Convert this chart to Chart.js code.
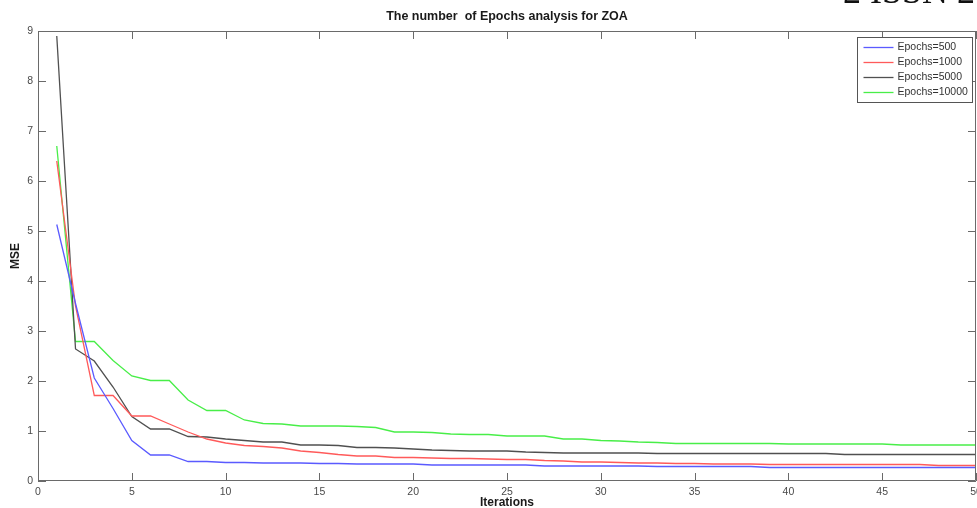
<!DOCTYPE html>
<html>
<head>
<meta charset="utf-8">
<title>Epochs analysis for ZOA</title>
<script src="https://cdn.jsdelivr.net/npm/chart.js@4.4.1/dist/chart.umd.min.js"></script>
<style>
  html, body { margin: 0; padding: 0; background: #fff; overflow: hidden; }
  #wrap { position: relative; width: 977px; height: 508px; overflow: hidden; }
  #issn {
    position: absolute; left: 843px; top: -27px;
    font-family: "Liberation Serif", "DejaVu Serif", serif;
    font-size: 36px; line-height: 36px; color: #111; white-space: nowrap;
  }
</style>
</head>
<body>
<div id="wrap">
  <canvas id="mseChart" width="977" height="508"></canvas>
  <div id="issn">2 ISSN 2</div>
</div>
<script>
const iterations = [1, 2, 3, 4, 5, 6, 7, 8, 9, 10,
  11, 12, 13, 14, 15, 16, 17, 18, 19, 20,
  21, 22, 23, 24, 25, 26, 27, 28, 29, 30,
  31, 32, 33, 34, 35, 36, 37, 38, 39, 40,
  41, 42, 43, 44, 45, 46, 47, 48, 49, 50];

const mse500 = [5.13, 3.55, 2.06, 1.45, 0.81, 0.52, 0.52, 0.39, 0.39, 0.37,
  0.37, 0.36, 0.36, 0.36, 0.35, 0.35, 0.34, 0.34, 0.34, 0.34,
  0.32, 0.32, 0.32, 0.32, 0.32, 0.32, 0.30, 0.30, 0.30, 0.30,
  0.30, 0.30, 0.29, 0.29, 0.29, 0.29, 0.29, 0.29, 0.27, 0.27,
  0.27, 0.27, 0.27, 0.27, 0.27, 0.27, 0.27, 0.27, 0.27, 0.27];

const mse1000 = [6.40, 3.50, 1.71, 1.71, 1.30, 1.30, 1.14, 0.98, 0.84, 0.76,
  0.71, 0.69, 0.66, 0.60, 0.57, 0.53, 0.50, 0.50, 0.47, 0.47,
  0.46, 0.45, 0.45, 0.44, 0.43, 0.43, 0.41, 0.40, 0.38, 0.38,
  0.37, 0.36, 0.36, 0.35, 0.35, 0.34, 0.34, 0.34, 0.33, 0.33,
  0.33, 0.33, 0.33, 0.33, 0.33, 0.33, 0.33, 0.31, 0.31, 0.31];

const mse5000 = [8.90, 2.64, 2.40, 1.88, 1.29, 1.04, 1.04, 0.89, 0.88, 0.84,
  0.81, 0.78, 0.78, 0.72, 0.72, 0.71, 0.67, 0.67, 0.66, 0.64,
  0.62, 0.61, 0.60, 0.60, 0.60, 0.58, 0.57, 0.56, 0.56, 0.56,
  0.56, 0.56, 0.55, 0.55, 0.55, 0.55, 0.55, 0.55, 0.55, 0.55,
  0.55, 0.55, 0.53, 0.53, 0.53, 0.53, 0.53, 0.53, 0.53, 0.53];

const mse10000 = [6.70, 2.79, 2.79, 2.41, 2.10, 2.01, 2.01, 1.62, 1.41, 1.41,
  1.22, 1.15, 1.14, 1.10, 1.10, 1.10, 1.09, 1.07, 0.98, 0.98,
  0.97, 0.94, 0.93, 0.93, 0.90, 0.90, 0.90, 0.84, 0.84, 0.81,
  0.80, 0.78, 0.77, 0.75, 0.75, 0.75, 0.75, 0.75, 0.75, 0.74,
  0.74, 0.74, 0.74, 0.74, 0.74, 0.72, 0.72, 0.72, 0.72, 0.72];

const seriesLabels = ['Epochs=500', 'Epochs=1000', 'Epochs=5000', 'Epochs=10000'];
const xTicks = [0, 5, 10, 15, 20, 25, 30, 35, 40, 45, 50];
const yTicks = [0, 1, 2, 3, 4, 5, 6, 7, 8, 9];

const FONT = '"Liberation Sans", Arial, sans-serif';
const colors = ['#5a5aff', '#ff5a5a', '#505050', '#48ee48'];
const TICK_LEN = 8;

function toPoints(values) {
  return values.map((v, i) => ({ x: iterations[i], y: v }));
}

// box round the plot, inward ticks on all four sides, legend in the corner
const frameAndLegend = {
  id: 'frameAndLegend',
  afterDatasetsDraw(chart) {
    const { ctx, chartArea: a, scales } = chart;
    ctx.save();
    ctx.strokeStyle = '#6a6a6a';
    ctx.lineWidth = 1;
    ctx.beginPath();
    ctx.rect(a.left + 0.5, a.top + 0.5, a.right - a.left - 1, a.bottom - a.top - 1);
    scales.x.ticks.forEach(t => {
      const px = Math.round(scales.x.getPixelForValue(t.value)) + 0.5;
      ctx.moveTo(px, a.bottom); ctx.lineTo(px, a.bottom - TICK_LEN);
      ctx.moveTo(px, a.top); ctx.lineTo(px, a.top + TICK_LEN);
    });
    scales.y.ticks.forEach(t => {
      const py = Math.round(scales.y.getPixelForValue(t.value)) + 0.5;
      ctx.moveTo(a.left, py); ctx.lineTo(a.left + TICK_LEN, py);
      ctx.moveTo(a.right, py); ctx.lineTo(a.right - TICK_LEN, py);
    });
    ctx.stroke();

    // legend
    const bw = 115, bh = 65;
    const bx = Math.round(a.right - 4 - bw) + 0.5;
    const by = Math.round(a.top + 6) + 0.5;
    ctx.fillStyle = '#fff';
    ctx.fillRect(bx, by, bw, bh);
    ctx.strokeStyle = '#555';
    ctx.strokeRect(bx, by, bw, bh);
    ctx.font = '10.5px ' + FONT;
    ctx.textBaseline = 'middle';
    ctx.textAlign = 'left';
    chart.data.datasets.forEach((ds, i) => {
      const ry = by + 10 + i * 15;
      ctx.strokeStyle = ds.borderColor;
      ctx.lineWidth = 1.3;
      ctx.beginPath();
      ctx.moveTo(bx + 6, ry); ctx.lineTo(bx + 36, ry);
      ctx.stroke();
      ctx.fillStyle = '#333';
      ctx.fillText(ds.label, bx + 40, ry);
    });
    ctx.restore();
  }
};

new Chart(document.getElementById('mseChart'), {
  type: 'line',
  data: {
    datasets: [mse500, mse1000, mse5000, mse10000].map((vals, i) => ({
      label: seriesLabels[i],
      data: toPoints(vals),
      borderColor: colors[i],
      borderWidth: 1.3,
      pointRadius: 0,
      tension: 0,
      fill: false
    }))
  },
  options: {
    responsive: false,
    animation: false,
    layout: { padding: { left: 0, right: 1, top: 0, bottom: 0 } },
    plugins: {
      legend: { display: false },
      tooltip: { enabled: false },
      title: {
        display: true,
        fullSize: false,
        text: 'The number  of Epochs analysis for ZOA',
        color: '#1a1a1a',
        font: { family: FONT, size: 12.5, weight: 'bold' },
        padding: { top: 9, bottom: 7 }
      }
    },
    scales: {
      x: {
        type: 'linear',
        min: 0,
        max: 50,
        grid: { display: false, drawTicks: false },
        border: { display: false },
        afterBuildTicks: s => { s.ticks = xTicks.map(v => ({ value: v })); },
        ticks: { color: '#4a4a4a', font: { family: FONT, size: 10.5 }, padding: 5, maxRotation: 0, autoSkip: false },
        title: {
          display: true,
          text: 'Iterations',
          color: '#1a1a1a',
          font: { family: FONT, size: 12, weight: 'bold' },
          padding: { top: 0, bottom: -1.5 }
        },
        afterFit: s => { s.height = 27; s.paddingLeft = 0; s.paddingRight = 0; }
      },
      y: {
        min: 0,
        max: 9,
        grid: { display: false, drawTicks: false },
        border: { display: false },
        afterBuildTicks: s => { s.ticks = yTicks.map(v => ({ value: v })); },
        ticks: { color: '#4a4a4a', font: { family: FONT, size: 10.5 }, padding: 5 },
        title: {
          display: true,
          text: 'MSE',
          color: '#1a1a1a',
          font: { family: FONT, size: 12, weight: 'bold' },
          padding: { top: 8, bottom: 0 }
        },
        afterFit: s => { s.width = 38; s.paddingTop = 0; s.paddingBottom = 0; }
      }
    }
  },
  plugins: [frameAndLegend]
});
</script>
</body>
</html>
